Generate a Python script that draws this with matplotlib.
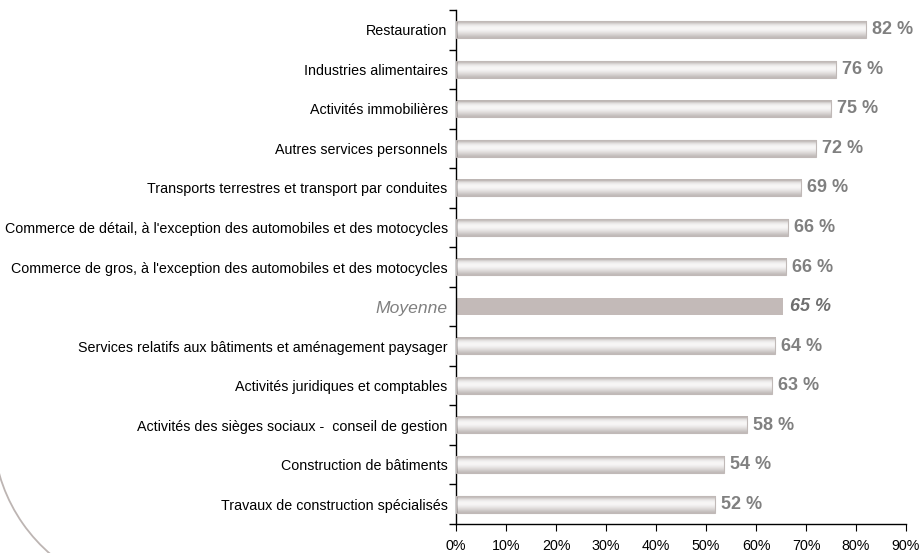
import numpy as np
import matplotlib.pyplot as plt
from matplotlib.colors import LinearSegmentedColormap
from matplotlib.patches import Arc
from matplotlib.ticker import FixedLocator, PercentFormatter

plt.rcParams['font.family'] = ['Liberation Sans', 'DejaVu Sans']

secteurs = [
    "Restauration",
    "Industries alimentaires",
    "Activités immobilières",
    "Autres services personnels",
    "Transports terrestres et transport par conduites",
    "Commerce de détail, à l'exception des automobiles et des motocycles",
    "Commerce de gros, à l'exception des automobiles et des motocycles",
    "Moyenne",
    "Services relatifs aux bâtiments et aménagement paysager",
    "Activités juridiques et comptables",
    "Activités des sièges sociaux -  conseil de gestion",
    "Construction de bâtiments",
    "Travaux de construction spécialisés",
]
valeurs = [82.0, 76.0, 75.0, 72.0, 69.0, 66.4, 66.0, 65.4, 63.8, 63.2, 58.2, 53.6, 51.8]
etiquettes = ["82 %", "76 %", "75 %", "72 %", "69 %", "66 %", "66 %", "65 %",
              "64 %", "63 %", "58 %", "54 %", "52 %"]
idx_moyenne = 7

fig = plt.figure(figsize=(9.21, 5.53), dpi=100)
ax = fig.add_axes([456 / 921, 1 - 524 / 553, 450 / 921, 514 / 553])

# gradient "cylindre" des barres
profil = np.array([0.0, 0.4, 0.75, 0.92, 1.0, 0.97, 0.85, 0.68, 0.5, 0.3, 0.1])[:, None]
cmap = LinearSegmentedColormap.from_list("barre", ["#bbb4b2", "#f8f7f7"])

n = len(secteurs)
ypos = np.arange(n)
h = 0.42
for y, v, i in zip(ypos, valeurs, range(n)):
    if i == idx_moyenne:
        ax.barh(y, v, height=h, color="#c3bab8", edgecolor="none", zorder=2)
    else:
        ax.imshow(profil, cmap=cmap, aspect="auto", interpolation="bicubic",
                  extent=[0, v, y + h / 2, y - h / 2], zorder=2)
        ax.barh(y, v, height=h, facecolor="none", edgecolor="#c0b9b7",
                linewidth=0.8, zorder=3)

for y, v, lab, i in zip(ypos, valeurs, etiquettes, range(n)):
    if i == idx_moyenne:
        ax.annotate(lab, (v, y), xytext=(5, 0), textcoords="offset points",
                    va="center", ha="left", fontsize=13, fontweight="bold",
                    fontstyle="italic", color="#6f6f6f")
    else:
        ax.annotate(lab, (v, y), xytext=(4, 0), textcoords="offset points",
                    va="center", ha="left", fontsize=13, fontweight="bold",
                    color="#808080")

ax.set_xlim(0, 90)
ax.set_ylim(n - 0.5, -0.5)
ax.set_yticks(ypos)
ax.set_yticklabels(secteurs, fontsize=10.3)
for i, t in enumerate(ax.get_yticklabels()):
    if i == idx_moyenne:
        t.set_fontstyle("italic")
        t.set_fontsize(12.6)
        t.set_color("#808080")
ax.tick_params(axis="y", which="major", length=0, pad=6)
ax.yaxis.set_minor_locator(FixedLocator(np.arange(-0.5, n, 1)))
ax.tick_params(axis="y", which="minor", length=5, direction="out", width=1)

ax.set_xticks(np.arange(0, 91, 10))
ax.xaxis.set_major_formatter(PercentFormatter(decimals=0))
ax.tick_params(axis="x", length=5, direction="out", labelsize=10.3, pad=6)

for s in ["top", "right"]:
    ax.spines[s].set_visible(False)
ax.spines["left"].set_linewidth(1)
ax.spines["bottom"].set_linewidth(1)

# arc décoratif en bas à gauche
arc = Arc((1.58, 1.24), 3.3, 3.3, theta1=185, theta2=245,
          transform=fig.dpi_scale_trans, color="#bdb5b3", linewidth=1.3)
fig.add_artist(arc)

fig.savefig("out.png", dpi=100)
